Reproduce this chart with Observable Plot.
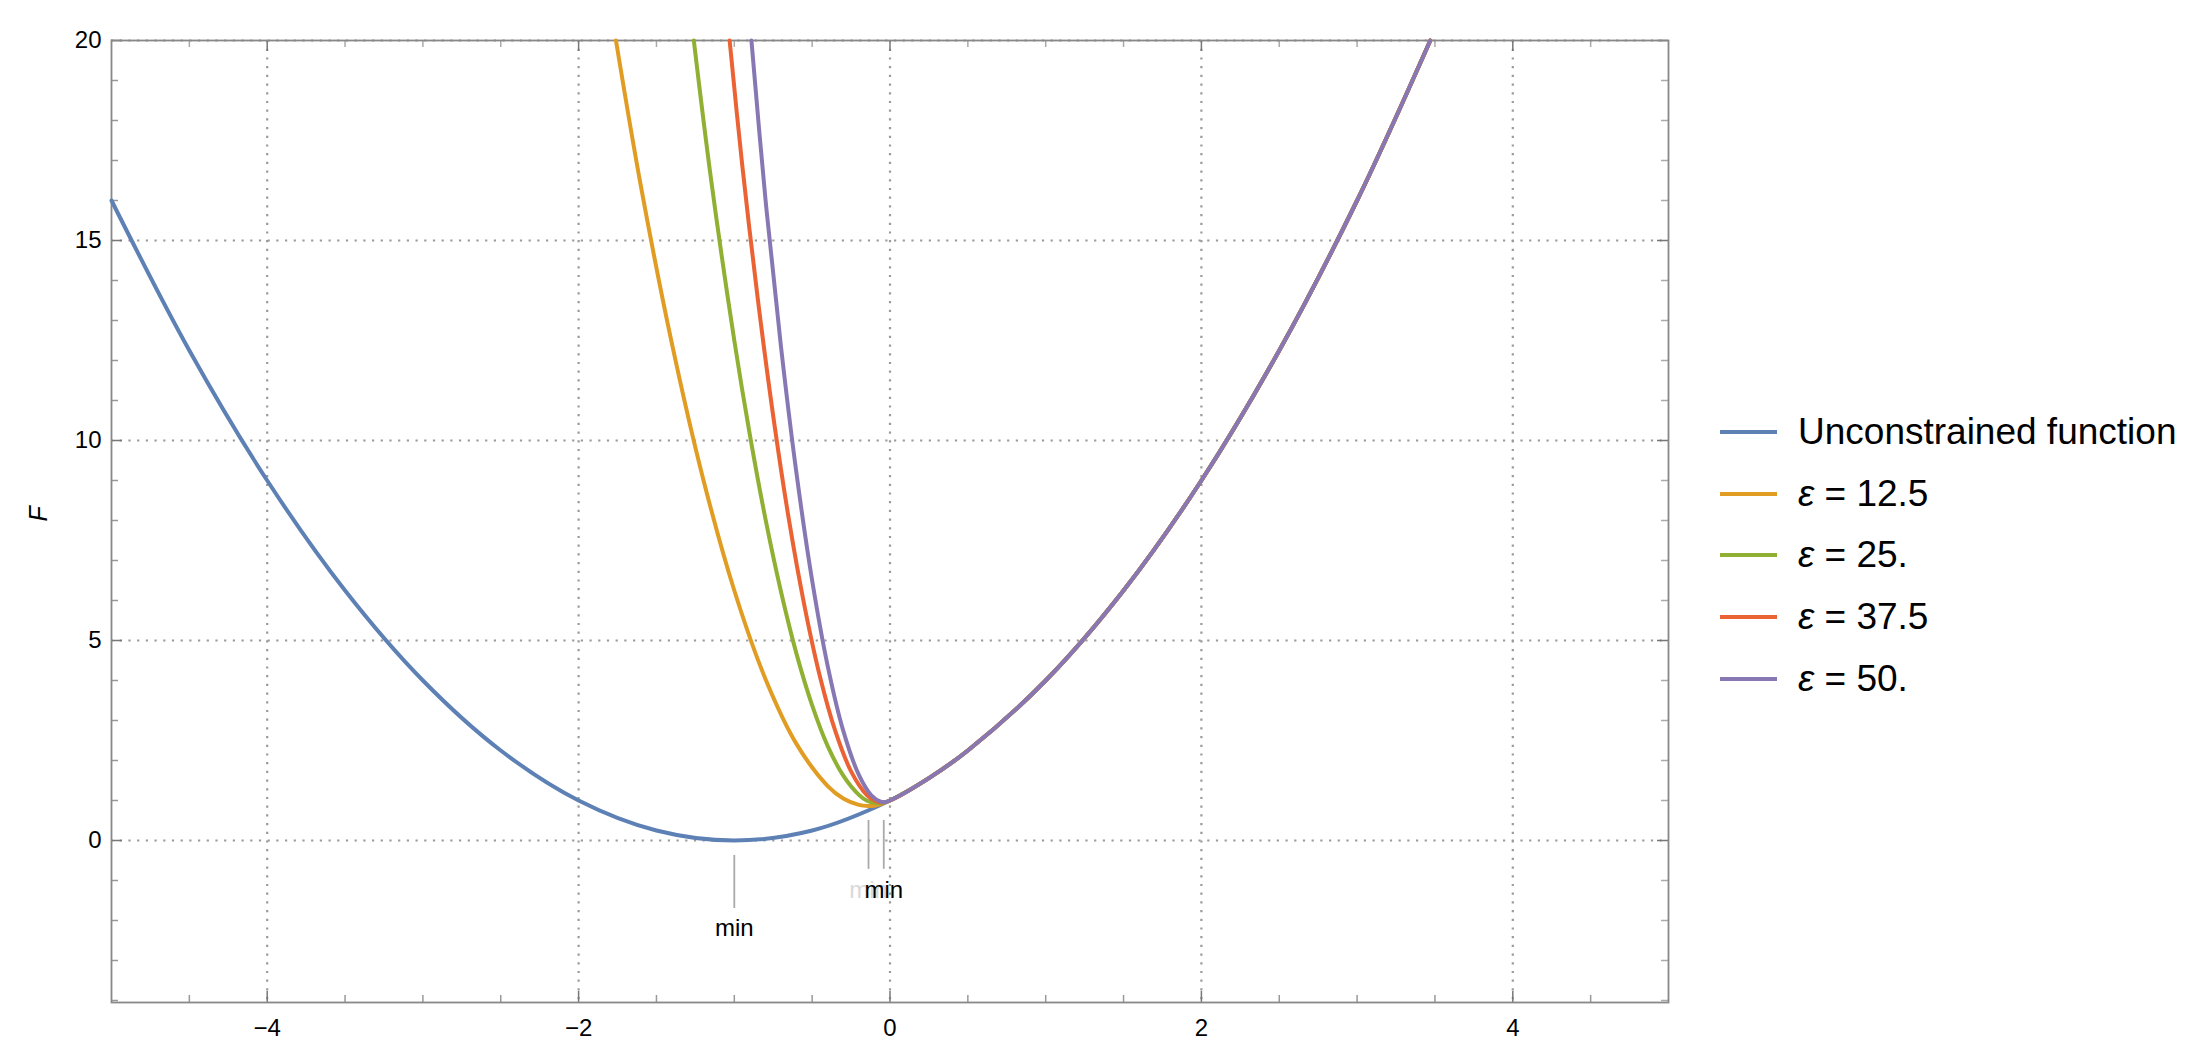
<!DOCTYPE html>
<html><head><meta charset="utf-8">
<script src="https://cdn.jsdelivr.net/npm/d3@7"></script>
<script src="https://cdn.jsdelivr.net/npm/@observablehq/plot@0.6"></script>
<style>
body{margin:0;background:#fff;}
#wrap{position:relative;width:2200px;height:1055px;overflow:hidden;}
#legend{position:absolute;left:1720px;top:401px;font-family:"Liberation Sans",Arial,sans-serif;font-size:37px;color:#000;}
.row{display:flex;align-items:center;height:61.75px;white-space:nowrap;}
.sw{width:57px;height:4px;margin-right:21px;}
</style></head><body><div id="wrap"><div id="chart"></div><div id="legend"></div></div>
<script>
// Tick values
const xMajor = [-4, -2, 0, 2, 4];
const xMinor = [-4.5, -3.5, -3, -2.5, -1.5, -1, -0.5, 0.5, 1, 1.5, 2.5, 3, 3.5, 4.5];
const yMajor = [0, 5, 10, 15, 20];
const yMinor = [-4, -3, -2, -1, 1, 2, 3, 4, 6, 7, 8, 9, 11, 12, 13, 14, 16, 17, 18, 19];

// Series
const seriesNames = ["Unconstrained function", "ε = 12.5", "ε = 25.", "ε = 37.5", "ε = 50."];
const colors = ["#5E81B5", "#E19C24", "#8FB032", "#EB6235", "#8778B3"];

const xUnc = [-5, -4.5, -4, -3.5, -3, -2.5, -2, -1.5, -1, -0.5, 0, 0.25, 0.5, 1, 1.5, 2, 2.5, 3, 3.47];
const yUnc = [16, 12.25, 9, 6.25, 4, 2.25, 1, 0.25, 0, 0.25, 1, 1.56, 2.25, 4, 6.25, 9, 12.25, 16, 20];

const xEps12 = [-1.76, -1.6, -1.4, -1.2, -1, -0.8, -0.6, -0.4, -0.3, -0.2, -0.14, -0.1, -0.05, 0, 0.25, 0.5, 1, 1.5, 2, 2.5, 3, 3.47];
const yEps12 = [20, 16.36, 12.41, 9.04, 6.25, 4.04, 2.41, 1.36, 1.05, 0.89, 0.86, 0.87, 0.92, 1, 1.56, 2.25, 4, 6.25, 9, 12.25, 16, 20];

const xEps25 = [-1.26, -1.15, -1, -0.9, -0.8, -0.7, -0.6, -0.5, -0.4, -0.3, -0.2, -0.15, -0.1, -0.07, -0.04, 0, 0.25, 0.5, 1, 1.5, 2, 2.5, 3, 3.47];
const yEps25 = [20, 16.55, 12.5, 10.14, 8.04, 6.22, 4.66, 3.38, 2.36, 1.62, 1.14, 1.0, 0.94, 0.93, 0.94, 1, 1.56, 2.25, 4, 6.25, 9, 12.25, 16, 20];

const xEps37 = [-1.03, -0.95, -0.85, -0.75, -0.65, -0.55, -0.45, -0.35, -0.25, -0.15, -0.1, -0.05, 0, 0.25, 0.5, 1, 1.5, 2, 2.5, 3, 3.47];
const yEps37 = [20, 16.92, 13.57, 10.61, 8.04, 5.88, 4.1, 2.72, 1.73, 1.14, 1.0, 0.95, 1, 1.56, 2.25, 4, 6.25, 9, 12.25, 16, 20];

const xEps50 = [-0.89, -0.8, -0.7, -0.6, -0.5, -0.4, -0.3, -0.2, -0.12, -0.06, -0.03, 0, 0.25, 0.5, 1, 1.5, 2, 2.5, 3, 3.47];
const yEps50 = [20, 16.04, 12.34, 9.16, 6.5, 4.36, 2.74, 1.64, 1.13, 0.97, 0.96, 1, 1.56, 2.25, 4, 6.25, 9, 12.25, 16, 20];

// "min" callouts
const minX = [-1, -0.138, -0.04];
const minY1 = [-0.375, 0.5, 0.5];
const minY2 = [-1.7, -0.72, -0.72];
const minLabelX = [-0.138, -1, -0.04];
const minLabelY = [-1.24, -2.2, -1.24];
const minLabelColor = ["#d9d9d9", "#000", "#000"];

const xs = [xUnc, xEps12, xEps25, xEps37, xEps50];
const ys = [yUnc, yEps12, yEps25, yEps37, yEps50];
const lines = xs.map((xa, i) => xa.map((x, j) => ({x, y: ys[i][j]})));
const callouts = minX.map((x, i) => ({x, y1: minY1[i], y2: minY2[i]}));
const minLabels = minLabelX.map((x, i) => ({x, y: minLabelY[i], c: minLabelColor[i]}));

const W = 2200, H = 1055, mL = 111, mR = 532, mT = 40, mB = 53;
const fw = W - mL - mR, fh = H - mT - mB;
const fmt = d => d < 0 ? "\u2212" + Math.abs(d) : String(d);
const tickMaj = 11, tickMin = 7;

const grid = {stroke: "#9a9a9a", strokeWidth: 2.2, strokeDasharray: "2.2,6.5"};

const marks = [
  Plot.ruleX(xMajor, grid),
  Plot.ruleY(yMajor, grid),
  // ticks (all four sides)
  Plot.ruleX(xMajor, {stroke: "#777", strokeWidth: 1.5, insetTop: fh - tickMaj}),
  Plot.ruleX(xMajor, {stroke: "#777", strokeWidth: 1.5, insetBottom: fh - tickMaj}),
  Plot.ruleX(xMinor, {stroke: "#999", strokeWidth: 1.5, insetTop: fh - tickMin}),
  Plot.ruleX(xMinor, {stroke: "#aaa", strokeWidth: 1.5, insetBottom: fh - tickMin}),
  Plot.ruleY(yMajor, {stroke: "#777", strokeWidth: 1.5, insetRight: fw - tickMaj}),
  Plot.ruleY(yMajor, {stroke: "#777", strokeWidth: 1.5, insetLeft: fw - tickMaj}),
  Plot.ruleY(yMinor, {stroke: "#999", strokeWidth: 1.5, insetRight: fw - tickMin}),
  Plot.ruleY(yMinor, {stroke: "#aaa", strokeWidth: 1.5, insetLeft: fw - tickMin}),
  Plot.frame({stroke: "#888", strokeWidth: 1.8}),
  ...lines.map((d, i) => Plot.line(d, {x: "x", y: "y", stroke: colors[i], strokeWidth: 4, curve: "catmull-rom"})),
  Plot.ruleX(callouts, {x: "x", y1: "y1", y2: "y2", stroke: "#aaa", strokeWidth: 1.8}),
  Plot.text(minLabels, {x: "x", y: "y", text: () => "min", fill: d => d.c, fontSize: 24}),
  Plot.text(["F"], {frameAnchor: "left", dx: -73, rotate: -90, fontStyle: "italic", fontSize: 25})
];

const chart = Plot.plot({
  width: W, height: H,
  marginLeft: mL, marginRight: mR, marginTop: mT, marginBottom: mB,
  style: {fontFamily: "'Liberation Sans', Arial, sans-serif", fontSize: "24px", color: "#000", background: "#fff", overflow: "visible"},
  x: {domain: [-5, 5], ticks: xMajor, tickSize: 0, tickPadding: 16, tickFormat: fmt, label: null},
  y: {domain: [-4.05, 20], ticks: yMajor, tickSize: 0, tickPadding: 10, tickFormat: fmt, label: null},
  marks
});
document.getElementById("chart").appendChild(chart);

const legend = document.getElementById("legend");
seriesNames.forEach((name, i) => {
  const row = document.createElement("div");
  row.className = "row";
  const sw = document.createElement("div");
  sw.className = "sw";
  sw.style.background = colors[i];
  row.appendChild(sw);
  const t = document.createElement("span");
  if (name.startsWith("ε")) {
    const e = document.createElement("span");
    e.style.fontStyle = "italic";
    e.textContent = "ε";
    t.appendChild(e);
    t.appendChild(document.createTextNode(name.slice(1)));
  } else {
    t.textContent = name;
  }
  row.appendChild(t);
  legend.appendChild(row);
});
</script>
</body></html>
